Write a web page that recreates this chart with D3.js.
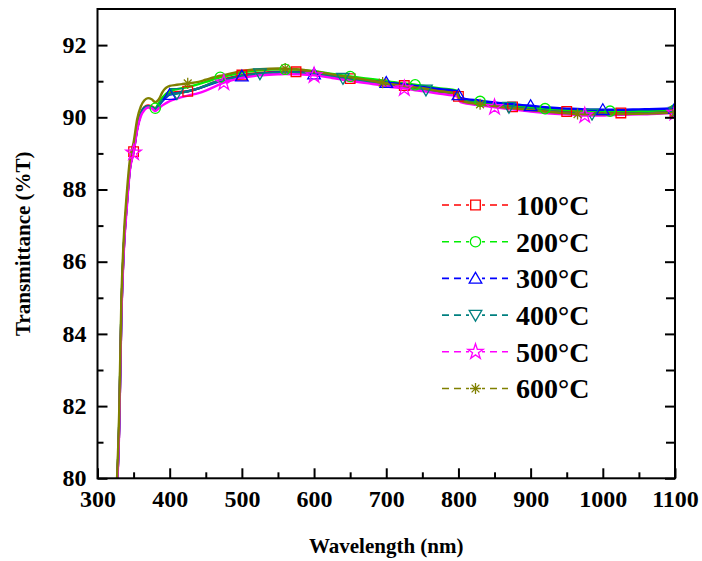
<!DOCTYPE html>
<html><head><meta charset="utf-8">
<script src="https://cdn.jsdelivr.net/npm/d3@7"></script>
<style>
html,body{margin:0;padding:0;background:#fff;}
svg{display:block;}
text{font-family:"Liberation Serif","Times New Roman",serif;font-weight:bold;fill:#000;}
</style></head>
<body>
<svg id="chart" width="702" height="561"></svg>
<script>
// ---------------- DATA ----------------
const wavelengths = [326,330,333,336,341,345,350,355,360,365,370,375,380,385,390,400,410,425,440,450,470,475,500,525,550,560,575,600,625,640,650,675,695,700,725,740,755,775,798,800,803,830,850,870,875,900,920,950,965,975,985,1000,1010,1025,1050,1075,1100];

const t100 = [79.4,81.4,84.5,86.2,87.7,88.6,89.05,89.7,90.1,90.28,90.33,90.3,90.25,90.36,90.5,90.66,90.7,90.72,90.8,90.88,91.03,91.06,91.17,91.23,91.26,91.27,91.26,91.22,91.15,91.1,91.07,91.0,90.95,90.93,90.88,90.84,90.8,90.74,90.68,90.58,90.48,90.4,90.35,90.3,90.29,90.24,90.2,90.16,90.14,90.13,90.12,90.12,90.12,90.12,90.13,90.14,90.16];
const t200 = [79.4,81.5,84.6,86.3,87.75,88.65,89.1,89.72,90.1,90.27,90.3,90.28,90.25,90.4,90.55,90.72,90.78,90.84,90.92,90.98,91.11,91.13,91.24,91.3,91.33,91.33,91.32,91.28,91.2,91.16,91.13,91.07,91.02,91.0,90.94,90.9,90.86,90.8,90.74,90.64,90.52,90.44,90.39,90.34,90.33,90.28,90.24,90.2,90.19,90.18,90.17,90.17,90.17,90.17,90.18,90.19,90.21];
const t300 = [79.4,81.4,84.5,86.2,87.7,88.6,89.05,89.7,90.08,90.26,90.3,90.27,90.22,90.33,90.45,90.63,90.67,90.72,90.8,90.87,91.0,91.03,91.14,91.2,91.24,91.25,91.24,91.2,91.14,91.1,91.07,91.01,90.97,90.96,90.91,90.87,90.83,90.78,90.72,90.62,90.54,90.46,90.41,90.37,90.36,90.32,90.28,90.24,90.23,90.22,90.21,90.21,90.21,90.21,90.22,90.23,90.25];
const t400 = [79.4,81.4,84.5,86.2,87.7,88.6,89.05,89.68,90.08,90.25,90.3,90.28,90.22,90.34,90.48,90.64,90.66,90.72,90.8,90.88,91.02,91.04,91.15,91.21,91.24,91.25,91.24,91.2,91.13,91.08,91.05,90.98,90.92,90.9,90.84,90.8,90.76,90.7,90.64,90.55,90.46,90.38,90.33,90.28,90.27,90.22,90.18,90.13,90.11,90.1,90.09,90.09,90.09,90.1,90.11,90.12,90.14];
const t500 = [79.3,81.3,84.4,86.1,87.6,88.55,89.02,89.65,90.03,90.2,90.27,90.25,90.17,90.25,90.33,90.45,90.52,90.6,90.67,90.74,90.92,90.96,91.09,91.16,91.19,91.2,91.19,91.16,91.09,91.04,91.01,90.94,90.88,90.86,90.8,90.75,90.71,90.65,90.58,90.5,90.42,90.33,90.28,90.23,90.22,90.16,90.12,90.08,90.06,90.05,90.05,90.05,90.06,90.07,90.08,90.1,90.12];
const t600 = [79.5,81.8,84.9,86.5,88.0,88.85,89.3,89.95,90.3,90.47,90.53,90.5,90.42,90.5,90.7,90.87,90.9,90.94,90.98,91.04,91.15,91.17,91.28,91.33,91.35,91.35,91.33,91.27,91.19,91.14,91.11,91.03,90.96,90.94,90.87,90.83,90.79,90.72,90.66,90.56,90.46,90.36,90.31,90.26,90.25,90.2,90.16,90.11,90.09,90.08,90.08,90.08,90.09,90.09,90.1,90.11,90.13];

// wavelengths at which each curve carries its marker
const m100 = [350,425,500,575,650,725,800,875,950,1025,1100];
const m200 = [380,470,560,650,740,830,920,1010,1100];
const m300 = [400,500,600,700,800,900,1000,1100];
const m400 = [410,525,640,755,870,985,1100];
const m500 = [350,475,600,725,850,975,1100];
const m600 = [425,560,695,830,965,1100];

const seriesNames = ["100°C","200°C","300°C","400°C","500°C","600°C"];
const seriesValues = [t100,t200,t300,t400,t500,t600];
const seriesMarks = [m100,m200,m300,m400,m500,m600];
const seriesColors = ["#ff0000","#00ee00","#0000ff","#008080","#ff00ff","#808000"];
const seriesShapes = ["square","circle","triangle","triangleDown","star","asterisk"];

const xTicksMajor = [300,400,500,600,700,800,900,1000,1100];
const yTicksMajor = [80,82,84,86,88,90,92];

// ---------------- LAYOUT ----------------
const svg = d3.select("#chart");
const L = 97.5, R = 675, T = 9, B = 478.3;
const x = d3.scaleLinear().domain([300,1100]).range([L,R]);
const y = d3.scaleLinear().domain([80,93]).range([B,T]);

// markers
function markerPath(shape, s){
  switch(shape){
    case "square": return `M${-s},${-s}H${s}V${s}H${-s}Z`;
    case "circle": return d3.symbol(d3.symbolCircle, Math.PI*s*s*1.15)();
    case "triangle": { const h=s*1.25; return `M0,${-h}L${h*1.05},${h*0.8}L${-h*1.05},${h*0.8}Z`; }
    case "triangleDown": { const h=s*1.25; return `M0,${h}L${h*1.05},${-h*0.8}L${-h*1.05},${-h*0.8}Z`; }
    case "star": return d3.symbol(d3.symbolStar, s*s*3.2)();
    case "asterisk": {
      let p=""; const r=s*1.15;
      for(let i=0;i<4;i++){const a=i*Math.PI/4; const dx=r*Math.sin(a), dy=r*Math.cos(a); p+=`M${-dx},${-dy}L${dx},${dy}`;}
      return p;
    }
  }
}

// clip
svg.append("clipPath").attr("id","clip").append("rect")
  .attr("x",L).attr("y",T).attr("width",R-L).attr("height",B-T);

const plot = svg.append("g").attr("clip-path","url(#clip)");
const line = d3.line().x(d=>x(d[0])).y(d=>y(d[1])).curve(d3.curveMonotoneX);

seriesValues.forEach((vals,i)=>{
  const pts = wavelengths.map((w,j)=>[w,vals[j]]);
  plot.append("path").datum(pts)
    .attr("d",line).attr("fill","none")
    .attr("stroke",seriesColors[i]).attr("stroke-width",2.4)
    .attr("stroke-linejoin","round");
});
seriesValues.forEach((vals,i)=>{
  const pts = wavelengths.map((w,j)=>[w,vals[j]]).filter(p=>seriesMarks[i].includes(p[0]));
  plot.selectAll(null).data(pts).enter().append("path")
    .attr("transform",d=>`translate(${x(d[0])},${y(d[1])})`)
    .attr("d",markerPath(seriesShapes[i],4.8))
    .attr("fill","none").attr("stroke",seriesColors[i]).attr("stroke-width",1.3);
});

// axes
const ax = svg.append("g");
function styleAxis(g){ g.select(".domain").remove(); g.selectAll("line").attr("stroke","#000").attr("stroke-width",2); }

const xMinor = d3.range(350,1100,100);
const yMinor = d3.range(81,93,2);

ax.append("g").attr("transform",`translate(0,${B})`)
  .call(d3.axisBottom(x).tickValues(xTicksMajor).tickSize(-10).tickPadding(11).tickFormat(d3.format("d")))
  .call(styleAxis).call(g=>g.selectAll("text").attr("font-size",24).attr("dy","0.75em"));
ax.append("g").attr("transform",`translate(0,${B})`)
  .call(d3.axisBottom(x).tickValues(xMinor).tickSize(-6).tickFormat(""))
  .call(styleAxis);
ax.append("g").attr("transform",`translate(${L},0)`)
  .call(d3.axisLeft(y).tickValues(yTicksMajor).tickSize(-10).tickPadding(11).tickFormat(d3.format("d")))
  .call(styleAxis).call(g=>g.selectAll("text").attr("font-size",24).attr("dy","0.3em"));
ax.append("g").attr("transform",`translate(${L},0)`)
  .call(d3.axisLeft(y).tickValues(yMinor).tickSize(-6).tickFormat(""))
  .call(styleAxis);
ax.append("g").attr("transform",`translate(${R},0)`)
  .call(d3.axisRight(y).tickValues(yTicksMajor).tickSize(-10).tickFormat(""))
  .call(styleAxis);
ax.append("g").attr("transform",`translate(${R},0)`)
  .call(d3.axisRight(y).tickValues(yMinor).tickSize(-9).tickFormat(""))
  .call(styleAxis);

svg.append("rect").attr("x",L).attr("y",T).attr("width",R-L).attr("height",B-T)
  .attr("fill","none").attr("stroke","#000").attr("stroke-width",2);

// titles
svg.append("text").attr("x",(L+R)/2).attr("y",553).attr("text-anchor","middle")
  .attr("font-size",21).text("Wavelength (nm)");
svg.append("text").attr("transform",`translate(30,${(T+B)/2}) rotate(-90)`)
  .attr("text-anchor","middle").attr("font-size",21).text("Transmittance (%T)");

// legend
const leg = svg.append("g");
seriesNames.forEach((nm,i)=>{
  const yy = 205 + i*36.7;
  leg.append("line").attr("x1",442).attr("x2",508).attr("y1",yy).attr("y2",yy)
    .attr("stroke",seriesColors[i]).attr("stroke-width",1.6).attr("stroke-dasharray","7,5");
  leg.append("rect").attr("x",469).attr("y",yy-7).attr("width",13).attr("height",14).attr("fill","#fff");
  leg.append("path").attr("transform",`translate(475.5,${yy})`)
    .attr("d",markerPath(seriesShapes[i],4.8)).attr("fill","none")
    .attr("stroke",seriesColors[i]).attr("stroke-width",1.3);
  leg.append("text").attr("x",516).attr("y",yy).attr("dy","0.35em").attr("font-size",28).text(nm);
});
</script>
</body></html>
